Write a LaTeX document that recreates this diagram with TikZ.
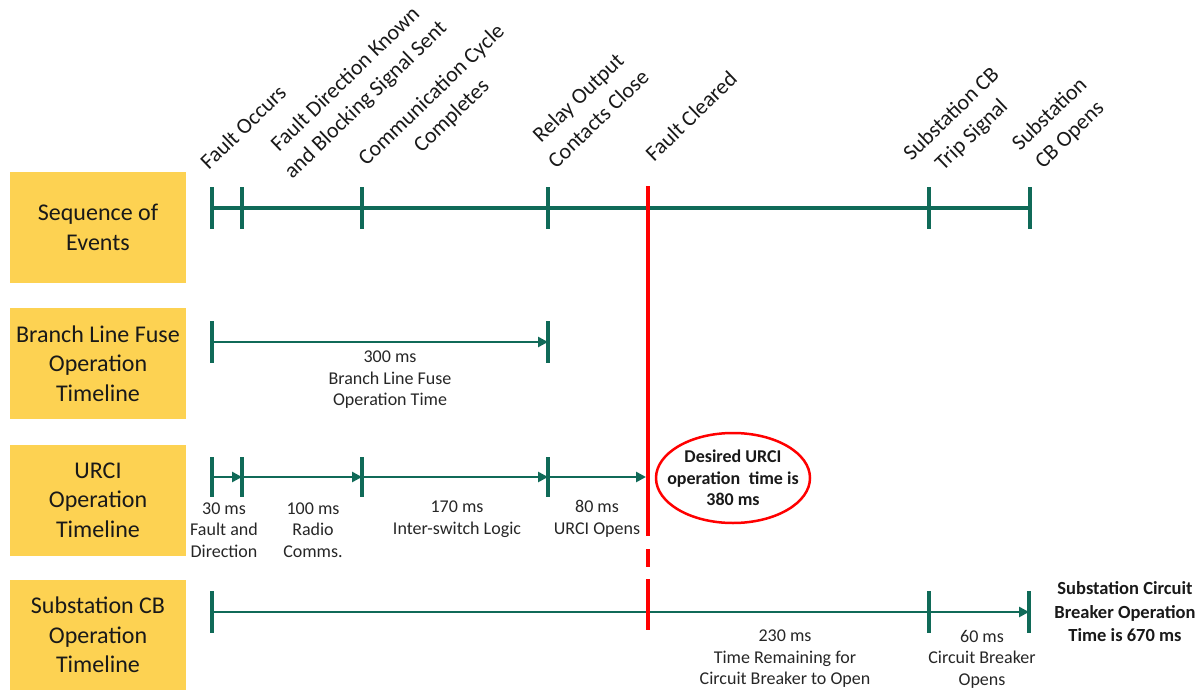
\documentclass[tikz,border=0pt]{standalone}
\usepackage{fontspec}
\setmainfont{Carlito}
\usetikzlibrary{arrows.meta,shapes.geometric}
\definecolor{tl}{RGB}{16,106,88}
\definecolor{boxy}{RGB}{253,210,82}
\begin{document}
\begin{tikzpicture}[x=1pt,y=-1pt,
  catbox/.style={fill=boxy, minimum width=176pt, minimum height=111pt, inner sep=0pt, align=center, font=\fontsize{24}{29.5}\selectfont, text=black!90},
  mainline/.style={draw=tl, line width=4pt},
  tk/.style={draw=tl, line width=4pt},
  arr/.style={draw=tl, line width=2.8pt, -{Triangle[length=10pt,width=10pt]}},
  plain/.style={draw=tl, line width=2.8pt},
  evt/.style={rotate=44, align=center, inner sep=0pt, font=\fontsize{22}{29}\selectfont, text=black!90},
  dur/.style={align=center, inner sep=0pt, font=\fontsize{18}{21.5}\selectfont, text=black!85},
  note/.style={align=center, inner sep=0pt, font=\bfseries\fontsize{18.5}{23.5}\selectfont, text=black!90},
  redl/.style={draw=red, line width=4.5pt},
]
\useasboundingbox (0,0) rectangle (1199,690);

% category boxes
\node[catbox] (b1) at (98,227.5) {Sequence of\\Events};
\node[catbox] (b2) at (98,363.5) {Branch Line Fuse\\Operation\\Timeline};
\node[catbox] (b3) at (98,500) {URCI\\Operation\\Timeline};
\node[catbox, minimum height=110pt] (b4) at (98,635) {Substation CB\\Operation\\Timeline};

% timeline 1 coordinates
\coordinate (s1) at (212,208);
\coordinate (s2) at (242,208);
\coordinate (s3) at (362,208);
\coordinate (s4) at (548,208);
\coordinate (s6) at (929,208);
\coordinate (s7) at (1030,208);

% red fault cleared line
\coordinate (r0) at (648,186);
\coordinate (r1) at (648,536);
\coordinate (r2) at (648,549);
\coordinate (r3) at (648,567);
\coordinate (r4) at (648,579);
\coordinate (r5) at (648,630);

% timeline 1
\draw[mainline] (s1) -- (s7);
\foreach \p in {s1,s2,s3,s4,s6,s7}
  \draw[tk] ([yshift=21pt]\p) -- ([yshift=-21pt]\p);

% timeline 2
\coordinate (f1) at (212,342);
\coordinate (f2) at (548,342);
\draw[arr] (f1) -- (f2);
\foreach \p in {f1,f2}
  \draw[tk] ([yshift=21pt]\p) -- ([yshift=-21pt]\p);

% timeline 3
\coordinate (u1) at (212,477);
\coordinate (u2) at (242,477);
\coordinate (u3) at (362,477);
\coordinate (u4) at (548,477);
\coordinate (u5) at (646,477);
\draw[arr] (u1) -- (u2);
\draw[arr] (u2) -- (u3);
\draw[arr] (u3) -- (u4);
\draw[arr] (u4) -- (u5);
\foreach \p in {u1,u2,u3,u4}
  \draw[tk] ([yshift=20pt]\p) -- ([yshift=-20pt]\p);

% timeline 4
\coordinate (c1) at (212,612);
\coordinate (c2) at (929,612);
\coordinate (c3) at (1029,612);
\draw[plain] (c1) -- (c2);
\draw[arr] (c2) -- (c3);
\foreach \p in {c1,c2,c3}
  \draw[tk] ([yshift=21pt]\p) -- ([yshift=-21pt]\p);

% red line
\draw[redl] (r0) -- (r1);
\draw[redl] (r2) -- (r3);
\draw[redl] (r4) -- (r5);

% event labels
\node[evt] (e1) at (243,127) {Fault Occurs};
\node[evt] (e2) at (356,90) {Fault Direction Known\\and Blocking Signal Sent};
\node[evt] (e3) at (442,106) {Communication Cycle\\Completes};
\node[evt] (e4) at (588,108) {Relay Output\\Contacts Close};
\node[evt] (e5) at (691,116) {Fault Cleared};
\node[evt] (e6) at (962,125) {Substation CB\\Trip Signal};
\node[evt] (e7) at (1060,125) {Substation\\CB Opens};

% duration labels
\node[dur] (d1) at (390,380) {300 ms\\Branch Line Fuse\\Operation Time};
\node[dur] (d2) at (224,530) {30 ms\\Fault and\\Direction};
\node[dur] (d3) at (313,530) {100 ms\\Radio\\Comms.};
\node[dur] (d4) at (457,519) {170 ms\\Inter-switch Logic};
\node[dur] (d5) at (597,519) {80 ms\\URCI Opens};
\node[dur] (d6) at (785,659) {230 ms\\Time Remaining for\\Circuit Breaker to Open};
\node[dur] (d7) at (982,659) {60 ms\\Circuit Breaker\\Opens};

% notes
\node[align=center, inner sep=0pt, font=\bfseries\fontsize{18}{21.7}\selectfont, text=black!90] (el) at (733,478) {Desired URCI\\operation\hspace{0.25em} time is\\380 ms};
\draw[red, line width=2.5pt] (el.center) ellipse [x radius=77, y radius=45];
\node[note] (n1) at (1125,612) {Substation Circuit\\Breaker Operation\\Time is 670 ms};
\end{tikzpicture}
\end{document}
